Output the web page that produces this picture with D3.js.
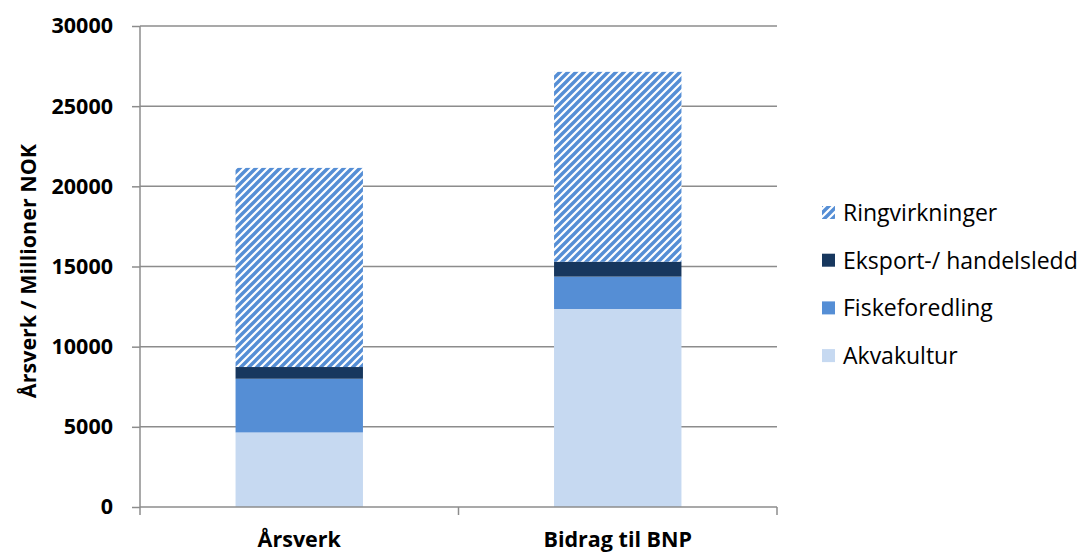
<!DOCTYPE html>
<html><head><meta charset="utf-8">
<script src="https://cdn.jsdelivr.net/npm/d3@7"></script>
<style>body{margin:0;background:#fff;} svg{display:block;}</style>
</head><body>
<svg id="c" width="1082" height="553"></svg>
<script>
const categories = ["Årsverk", "Bidrag til BNP"];
const seriesNames = ["Akvakultur", "Fiskeforedling", "Eksport-/ handelsledd", "Ringvirkninger"];
const akvakultur = [4650, 12350];
const fiskeforedling = [3350, 2020];
const eksport = [730, 930];
const ringvirkninger = [12420, 11840];
const yTicks = [0, 5000, 10000, 15000, 20000, 25000, 30000];
const yTitle = "Årsverk / Millioner NOK";

const colors = ["#C6D9F1", "#558ED5", "#17375E", "url(#stripes)"];
const svg = d3.select("#c");
const font = "'Open Sans', sans-serif";

const defs = svg.append("defs");
const pat = defs.append("pattern").attr("id","stripes").attr("patternUnits","userSpaceOnUse")
  .attr("width",8).attr("height",8);
pat.append("rect").attr("width",8).attr("height",8).attr("fill","#fff");
pat.append("path").attr("d","M-2,2 L2,-2 M0,8 L8,0 M6,10 L10,6").attr("stroke","#558ED5").attr("stroke-width",3.4);

const m = {l:140, r:777, t:26, b:507};
const x = d3.scaleBand().domain(categories).range([m.l, m.r]).paddingInner(0.6).paddingOuter(0.3);
const y = d3.scaleLinear().domain([0,30000]).range([m.b, m.t]);

const data = categories.map((c,i)=>({cat:c, Akvakultur:akvakultur[i], Fiskeforedling:fiskeforedling[i], "Eksport-/ handelsledd":eksport[i], Ringvirkninger:ringvirkninger[i]}));
const stack = d3.stack().keys(seriesNames)(data);

// gridlines
svg.append("g").selectAll("line").data(yTicks.filter(d=>d>0)).join("line")
  .attr("x1",m.l).attr("x2",m.r).attr("y1",d=>y(d)).attr("y2",d=>y(d))
  .attr("stroke","#8C8C8C").attr("stroke-width",1.5);

// bars
svg.append("g").selectAll("g").data(stack).join("g")
  .attr("fill",(d,i)=>colors[i])
  .selectAll("rect").data(d=>d).join("rect")
  .attr("x",d=>x(d.data.cat)).attr("width",x.bandwidth())
  .attr("y",d=>y(d[1])).attr("height",d=>y(d[0])-y(d[1]));

// y axis
const yAxis = svg.append("g").attr("transform",`translate(${m.l},0)`)
  .call(d3.axisLeft(y).tickValues(yTicks).tickSize(8).tickPadding(19).tickFormat(d3.format("d")));
yAxis.select(".domain").attr("stroke","#8C8C8C").attr("stroke-width",1.5).attr("d",`M0,${m.t}V${m.b}`);
yAxis.selectAll(".tick line").attr("stroke","#8C8C8C").attr("stroke-width",1.5);
yAxis.selectAll("text").attr("font-family",font).attr("font-size",21.5).attr("font-weight","bold").attr("fill","#000");

// x axis
const xb = d3.scaleLinear().domain([0,2]).range([m.l,m.r]);
const xAxis = svg.append("g").attr("transform",`translate(0,${m.b})`);
xAxis.append("line").attr("x1",m.l).attr("x2",m.r).attr("stroke","#8C8C8C").attr("stroke-width",1.5);
xAxis.selectAll(".tk").data([0,1,2]).join("line").attr("class","tk")
  .attr("x1",d=>xb(d)).attr("x2",d=>xb(d)).attr("y1",0).attr("y2",8)
  .attr("stroke","#8C8C8C").attr("stroke-width",1.5);
xAxis.selectAll("text").data(categories).join("text")
  .attr("x",d=>x(d)+x.bandwidth()/2).attr("y",40).attr("text-anchor","middle")
  .attr("font-family",font).attr("font-size",21.5).attr("font-weight","bold").text(d=>d);

// y title
svg.append("text").attr("transform",`translate(28,${271}) rotate(-90)`)
  .attr("text-anchor","middle").attr("dy","0.35em").attr("font-family",font).attr("font-size",21.5).attr("font-weight","bold").text(yTitle);

// legend
const legOrder = seriesNames.map((n,i)=>({n, c:colors[i]})).reverse();
const lg = svg.append("g").selectAll("g").data(legOrder).join("g")
  .attr("transform",(d,i)=>`translate(822,${213 + i*47.7})`);
lg.append("rect").attr("x",0).attr("y",-7).attr("width",13).attr("height",13).attr("fill",d=>d.c);
lg.append("text").attr("x",21).attr("y",0).attr("dy","0.35em").attr("font-family",font).attr("font-size",23).text(d=>d.n);
</script>
</body></html>
